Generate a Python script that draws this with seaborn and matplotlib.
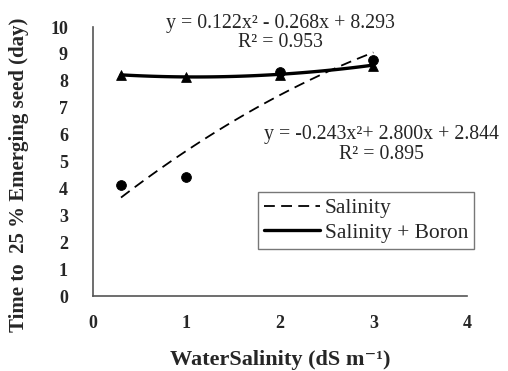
import numpy as np
import pandas as pd
import matplotlib
matplotlib.use("Agg")
import matplotlib.pyplot as plt
import seaborn as sns

# Measured emergence times
salinity_levels = [0.3, 1.0, 2.0, 3.0]
days_salinity = [4.12, 4.42, 8.32, 8.78]
days_salinity_boron = [8.2, 8.15, 8.22, 8.55]

# Quadratic fit coefficients (a, b, c) for y = a x^2 + b x + c
fit_salinity = [-0.243, 2.800, 2.844]
fit_salinity_boron = [0.122, -0.268, 8.293]

x_ticks = [0, 1, 2, 3, 4]
y_ticks = list(range(0, 11))

sns.set_theme(style="white")
serif = ["Liberation Serif", "DejaVu Serif"]
plt.rcParams["font.family"] = serif

fig = plt.figure(figsize=(5.08, 3.71), dpi=100)
ax = fig.add_axes([0.183, 0.202, 0.736, 0.725])

pts = pd.DataFrame({"x": salinity_levels, "s": days_salinity, "sb": days_salinity_boron})

xx = np.linspace(min(salinity_levels), max(salinity_levels), 100)
curves = pd.DataFrame({
    "x": xx,
    "s": np.polyval(fit_salinity, xx),
    "sb": np.polyval(fit_salinity_boron, xx),
})

sns.lineplot(data=curves, x="x", y="s", ax=ax, color="black", lw=1.3,
             linestyle=(0, (6, 3.5)), label="Salinity")
sns.lineplot(data=curves, x="x", y="sb", ax=ax, color="black", lw=2.4,
             label="Salinity + Boron")
sns.scatterplot(data=pts, x="x", y="s", ax=ax, color="black", marker="o",
                s=50, edgecolor="black", zorder=5, legend=False)
sns.scatterplot(data=pts, x="x", y="sb", ax=ax, color="black", marker="^",
                s=50, edgecolor="black", zorder=5, legend=False)

ax.set_xlim(0, 4)
ax.set_ylim(0, 10)
ax.set_xticks(x_ticks)
ax.set_yticks(y_ticks)
ax.set_xticklabels([str(t) for t in x_ticks], fontweight="bold", fontsize=13)
ax.set_yticklabels([str(t) for t in y_ticks], fontweight="bold", fontsize=13)
ax.tick_params(axis="x", direction="inout", length=5, width=1, color="#555555", pad=11)
ax.tick_params(axis="y", direction="out", length=5, width=1, color="#555555", pad=13)

for side in ["top", "right"]:
    ax.spines[side].set_visible(False)
for side in ["left", "bottom"]:
    ax.spines[side].set_color("#555555")
    ax.spines[side].set_linewidth(1.2)

ax.set_xlabel("WaterSalinity (dS m\u207b\u00b9)", fontweight="bold", fontsize=16, labelpad=13)
ax.set_ylabel("Time to  25 % Emerging seed (day)", fontweight="bold", fontsize=15)
ax.yaxis.set_label_coords(-0.17, 0.45)

eq_kw = dict(ha="center", va="center", fontsize=14.3)
ax.text(2.01, 10.15, "y = 0.122x\u00b2 - 0.268x + 8.293", **eq_kw)
ax.text(2.01, 9.44, "R\u00b2 = 0.953", **eq_kw)
ax.text(3.09, 5.99, "y = -0.243x\u00b2+ 2.800x + 2.844", **eq_kw)
ax.text(3.09, 5.28, "R\u00b2 = 0.895", **eq_kw)

leg = ax.legend(loc="upper left", bbox_to_anchor=(0.441, 0.387), fontsize=15.5,
                frameon=True, fancybox=False, edgecolor="#555555",
                handlelength=2.6, handletextpad=0.2, borderpad=0.3,
                labelspacing=0.2, borderaxespad=0)
leg.get_frame().set_linewidth(1.0)

fig.savefig("out.png", dpi=100)
